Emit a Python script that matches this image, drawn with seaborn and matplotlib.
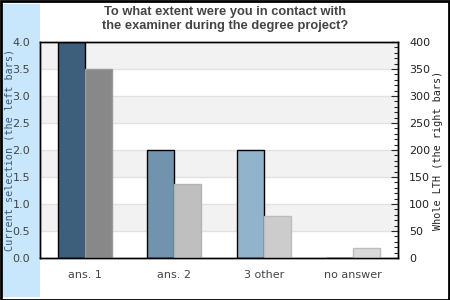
import matplotlib
matplotlib.use("Agg")
import matplotlib.pyplot as plt
from matplotlib.patches import Rectangle
from matplotlib.ticker import MultipleLocator
import seaborn as sns
import pandas as pd

categories = ["ans. 1", "ans. 2", "3 other", "no answer"]
current_selection = [4, 2, 2, 0]
whole_lth = [350, 137, 78, 18]
left_colors = ["#3e5f7b", "#7193ae", "#92b3cc", "#92b3cc"]
right_colors = ["#888888", "#bfbfbf", "#cccccc", "#d9d9d9"]
right_edges = ["#9a9a9a", "#b4b4b4", "#bdbdbd", "#bdbdbd"]
title = "To what extent were you in contact with\nthe examiner during the degree project?"

sns.set_style("white")
plt.rcParams["font.family"] = ["DejaVu Sans"]

fig = plt.figure(figsize=(4.5, 3.0), dpi=100)
fig.patch.set_facecolor("white")
fig.add_artist(Rectangle((3 / 450, 3 / 300), 37 / 450, 293 / 300, transform=fig.transFigure,
                         facecolor="#c8e6fc", edgecolor="none", zorder=-1))
fig.add_artist(Rectangle((0.5 / 450, 0.5 / 300), 448.5 / 450, 298.5 / 300, transform=fig.transFigure,
                         facecolor="none", edgecolor="black", linewidth=2, zorder=10))

ax = fig.add_axes([40 / 450, 42 / 300, 358 / 450, 216 / 300])
ax.set_facecolor("white")

df_left = pd.DataFrame({"cat": categories, "val": current_selection, "s": "left"})
df_right = pd.DataFrame({"cat": categories, "val": whole_lth, "s": "right"})


def bars_of(axis):
    for cont in axis.containers:
        if len(cont) > 0:
            return list(cont)
    return []


sns.barplot(data=df_left, x="cat", y="val", hue="s", hue_order=["left", "right"],
            order=categories, width=0.6, dodge=True, ax=ax, legend=False, zorder=2)
for p, c in zip(bars_of(ax), left_colors):
    p.set_facecolor(c)
    p.set_edgecolor("black")
    p.set_linewidth(1)

for lo in [0.5, 1.5, 2.5, 3.5]:
    ax.axhspan(lo, lo + 0.5, color="#f2f2f2", zorder=0, linewidth=0)
for g in [0.5, 1.0, 1.5, 2.0, 2.5, 3.0, 3.5]:
    ax.axhline(g, color="#e2e2e2", linewidth=1, zorder=0.5)

ax2 = ax.twinx()
sns.barplot(data=df_right, x="cat", y="val", hue="s", hue_order=["left", "right"],
            order=categories, width=0.6, dodge=True, ax=ax2, legend=False, zorder=2)
for p, c, e in zip(bars_of(ax2), right_colors, right_edges):
    p.set_facecolor(c)
    p.set_edgecolor(e)
    p.set_linewidth(1)

ax.set_xlim(-0.5, 3.5)
ax.set_ylim(0, 4)
ax2.set_ylim(0, 400)
ax.yaxis.set_major_locator(MultipleLocator(0.5))
ax.set_yticklabels([f"{v:.1f}" for v in ax.get_yticks()])
ax.tick_params(axis="y", length=0, pad=7, labelsize=8, labelcolor="#444444")
ax.tick_params(axis="x", length=0, pad=9, labelsize=8, labelcolor="#444444")
ax.set_xlabel("")
ax.set_ylabel("Current selection (the left bars)", family="DejaVu Sans Mono",
              fontsize=7.3, color="#3d5a75")
ax.yaxis.set_label_coords(-25 / 358, 0.5)

ax2.yaxis.set_major_locator(MultipleLocator(50))
ax2.yaxis.set_minor_locator(MultipleLocator(10))
ax2.tick_params(axis="y", which="major", direction="in", length=5, width=0.8,
                pad=8, labelsize=8, labelcolor="#222222")
ax2.tick_params(axis="y", which="minor", direction="in", length=3, width=0.8)
ax2.set_ylabel("Whole LTH (the right bars)", family="DejaVu Sans Mono",
               fontsize=7.3, color="#222222")
ax2.yaxis.set_label_coords(393 / 358, 0.5)
ax2.set_xlabel("")

for a in (ax, ax2):
    for s in a.spines.values():
        s.set_color("black")
        s.set_linewidth(1)

fig.text(0.5, 1 - 19 / 300, title, ha="center", va="center", fontsize=9.3, fontweight="bold",
         color="#444444", family="Liberation Sans", linespacing=1.15)

fig.savefig("out.png", dpi=100)
